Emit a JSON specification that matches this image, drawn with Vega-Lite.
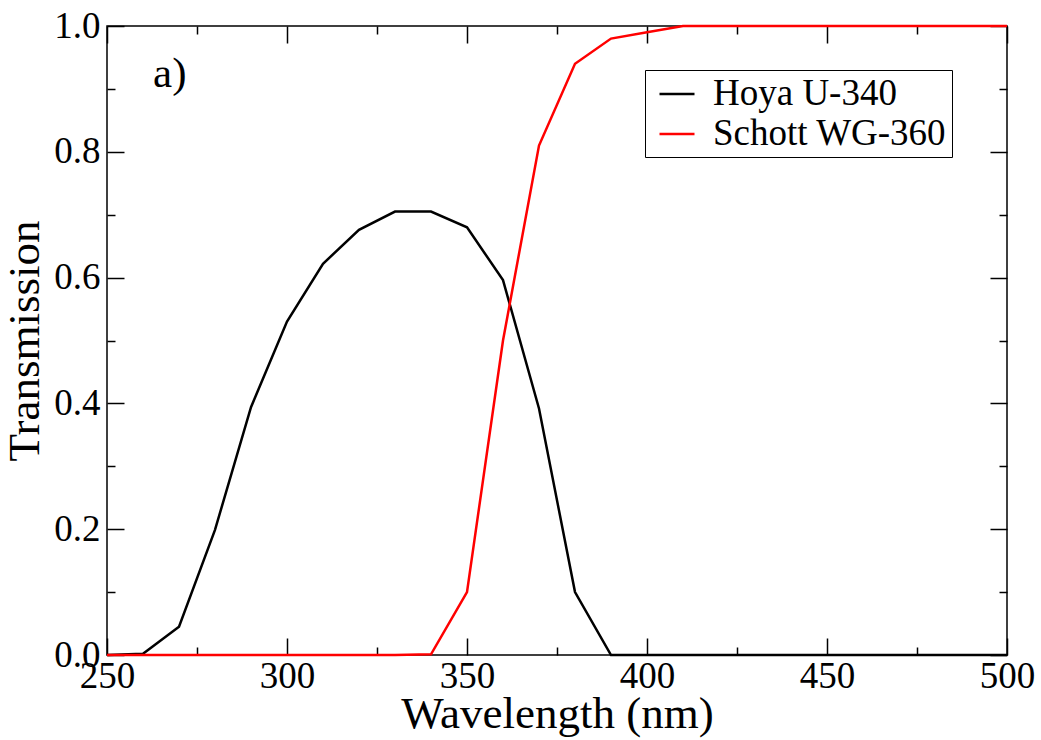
{
  "$schema": "https://vega.github.io/schema/vega-lite/v6.json",
  "width": 900,
  "height": 629,
  "autosize": {"type": "none"},
  "padding": {"left": 107, "top": 26, "right": 34, "bottom": 85},
  "background": "white",
  "config": {
    "view": {"stroke": "black", "strokeWidth": 1.5},
    "font": "Liberation Serif",
    "axis": {"grid": false, "domain": false, "tickColor": "black", "tickWidth": 1.5, "labelColor": "black", "titleColor": "black", "labelFont": "Liberation Serif", "titleFont": "Liberation Serif", "titleFontWeight": "normal"}
  },
  "data": {"values": [
    {"wl": 250, "t": 0, "filter": "Hoya U-340"},
    {"wl": 260, "t": 0.002, "filter": "Hoya U-340"},
    {"wl": 270, "t": 0.045, "filter": "Hoya U-340"},
    {"wl": 280, "t": 0.199, "filter": "Hoya U-340"},
    {"wl": 290, "t": 0.394, "filter": "Hoya U-340"},
    {"wl": 300, "t": 0.53, "filter": "Hoya U-340"},
    {"wl": 310, "t": 0.622, "filter": "Hoya U-340"},
    {"wl": 320, "t": 0.676, "filter": "Hoya U-340"},
    {"wl": 330, "t": 0.705, "filter": "Hoya U-340"},
    {"wl": 340, "t": 0.705, "filter": "Hoya U-340"},
    {"wl": 350, "t": 0.68, "filter": "Hoya U-340"},
    {"wl": 360, "t": 0.596, "filter": "Hoya U-340"},
    {"wl": 370, "t": 0.392, "filter": "Hoya U-340"},
    {"wl": 380, "t": 0.1, "filter": "Hoya U-340"},
    {"wl": 390, "t": 0, "filter": "Hoya U-340"},
    {"wl": 400, "t": 0, "filter": "Hoya U-340"},
    {"wl": 410, "t": 0, "filter": "Hoya U-340"},
    {"wl": 420, "t": 0, "filter": "Hoya U-340"},
    {"wl": 430, "t": 0, "filter": "Hoya U-340"},
    {"wl": 440, "t": 0, "filter": "Hoya U-340"},
    {"wl": 450, "t": 0, "filter": "Hoya U-340"},
    {"wl": 460, "t": 0, "filter": "Hoya U-340"},
    {"wl": 470, "t": 0, "filter": "Hoya U-340"},
    {"wl": 480, "t": 0, "filter": "Hoya U-340"},
    {"wl": 490, "t": 0, "filter": "Hoya U-340"},
    {"wl": 500, "t": 0, "filter": "Hoya U-340"},
    {"wl": 250, "t": 0, "filter": "Schott WG-360"},
    {"wl": 260, "t": 0, "filter": "Schott WG-360"},
    {"wl": 270, "t": 0, "filter": "Schott WG-360"},
    {"wl": 280, "t": 0, "filter": "Schott WG-360"},
    {"wl": 290, "t": 0, "filter": "Schott WG-360"},
    {"wl": 300, "t": 0, "filter": "Schott WG-360"},
    {"wl": 310, "t": 0, "filter": "Schott WG-360"},
    {"wl": 320, "t": 0, "filter": "Schott WG-360"},
    {"wl": 330, "t": 0, "filter": "Schott WG-360"},
    {"wl": 340, "t": 0.001, "filter": "Schott WG-360"},
    {"wl": 350, "t": 0.1, "filter": "Schott WG-360"},
    {"wl": 360, "t": 0.5, "filter": "Schott WG-360"},
    {"wl": 370, "t": 0.81, "filter": "Schott WG-360"},
    {"wl": 380, "t": 0.94, "filter": "Schott WG-360"},
    {"wl": 390, "t": 0.98, "filter": "Schott WG-360"},
    {"wl": 400, "t": 0.99, "filter": "Schott WG-360"},
    {"wl": 410, "t": 1.0, "filter": "Schott WG-360"},
    {"wl": 420, "t": 1.0, "filter": "Schott WG-360"},
    {"wl": 430, "t": 1.0, "filter": "Schott WG-360"},
    {"wl": 440, "t": 1.0, "filter": "Schott WG-360"},
    {"wl": 450, "t": 1.0, "filter": "Schott WG-360"},
    {"wl": 460, "t": 1.0, "filter": "Schott WG-360"},
    {"wl": 470, "t": 1.0, "filter": "Schott WG-360"},
    {"wl": 480, "t": 1.0, "filter": "Schott WG-360"},
    {"wl": 490, "t": 1.0, "filter": "Schott WG-360"},
    {"wl": 500, "t": 1.0, "filter": "Schott WG-360"}
  ]},
  "resolve": {"axis": {"x": "independent", "y": "independent"}},
  "layer": [
    {
      "mark": {"type": "line", "strokeOpacity": 0},
      "encoding": {
        "x": {"field": "wl", "type": "quantitative", "scale": {"domain": [250, 500], "nice": false, "zero": false},
          "axis": {"orient": "top", "values": [250, 275, 300, 325, 350, 375, 400, 425, 450, 475, 500], "labels": false, "title": null,
            "tickSize": {"condition": {"test": "datum.value % 50 === 0", "value": -17}, "value": -8}}},
        "y": {"field": "t", "type": "quantitative", "scale": {"domain": [0, 1], "nice": false},
          "axis": {"orient": "right", "values": [0, 0.1, 0.2, 0.3, 0.4, 0.5, 0.6, 0.7, 0.8, 0.9, 1.0], "labels": false, "title": null,
            "tickSize": {"condition": {"test": "round(datum.value*10) % 2 === 0", "value": -17}, "value": -8}}},
        "detail": {"field": "filter"}
      }
    },
    {
      "mark": {"type": "line", "strokeWidth": 2.5},
      "encoding": {
        "x": {"field": "wl", "type": "quantitative", "scale": {"domain": [250, 500], "nice": false, "zero": false},
          "axis": {"orient": "bottom", "values": [250, 275, 300, 325, 350, 375, 400, 425, 450, 475, 500], "title": "Wavelength (nm)",
            "labelExpr": "datum.value % 50 === 0 ? datum.label : ''", "labelFontSize": 37, "titleFontSize": 45, "labelPadding": 20, "titlePadding": -12, "labelFlush": false, "labelOverlap": false,
            "tickSize": {"condition": {"test": "datum.value % 50 === 0", "value": -17}, "value": -8}}},
        "y": {"field": "t", "type": "quantitative", "scale": {"domain": [0, 1], "nice": false},
          "axis": {"orient": "left", "values": [0, 0.1, 0.2, 0.3, 0.4, 0.5, 0.6, 0.7, 0.8, 0.9, 1.0], "title": "Transmission",
            "labelExpr": "round(datum.value*10) % 2 === 0 ? format(datum.value, '.1f') : ''", "labelFontSize": 37, "titleFontSize": 45, "labelPadding": 24, "titlePadding": 6, "labelFlush": false, "labelOverlap": false,
            "tickSize": {"condition": {"test": "round(datum.value*10) % 2 === 0", "value": -17}, "value": -8}}},
        "color": {"field": "filter", "type": "nominal", "scale": {"domain": ["Hoya U-340", "Schott WG-360"], "range": ["#000000", "#ff0000"]},
          "legend": {"title": null, "orient": "none", "legendX": 538, "legendY": 44, "labelFontSize": 37, "labelFont": "Liberation Serif", "labelColor": "black", "labelLimit": 500,
            "labelExpr": "datum.label + '  '",
            "symbolType": "stroke", "symbolSize": 1225, "symbolStrokeWidth": 2.5, "symbolOffset": 8, "labelOffset": 17, "padding": 5, "rowPadding": 3,
            "strokeColor": "black", "fillColor": "white", "symbolOpacity": 1}}
      }
    },
    {
      "data": {"values": [{"label": "a)"}]},
      "mark": {"type": "text", "font": "Liberation Serif", "fontSize": 43, "align": "left", "baseline": "alphabetic", "color": "black"},
      "encoding": {
        "text": {"field": "label"},
        "x": {"datum": 262.8, "type": "quantitative", "axis": null},
        "y": {"datum": 0.903, "type": "quantitative", "axis": null}
      }
    }
  ]
}
